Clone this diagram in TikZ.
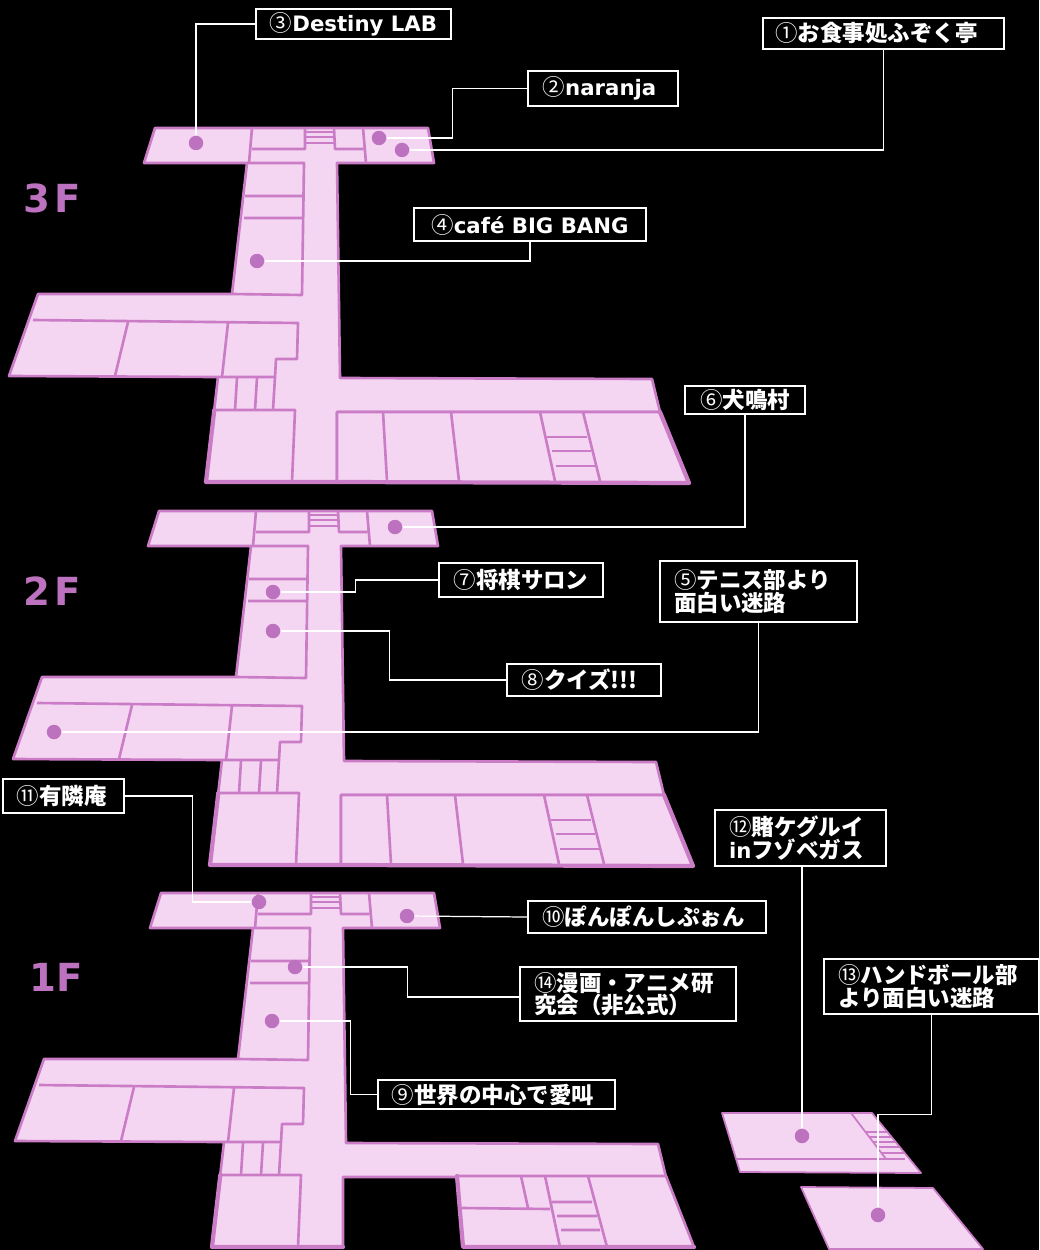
\documentclass[tikz,border=0pt]{standalone}
\usepackage{fontspec}
\setmainfont{DejaVu Sans}
\newfontfamily\jp{Noto Sans CJK JP}
\usetikzlibrary{positioning, calc}
\definecolor{roomfill}{HTML}{F5D6F2}
\definecolor{wallline}{HTML}{CB7CC6}
\definecolor{dotcol}{HTML}{BD72BF}
\newcommand{\jt}[1]{{\jp\fontsize{12.8}{12.8}\selectfont #1}}
\newcommand{\cn}[1]{{\mdseries\jp\fontsize{12.8}{12.8}\selectfont #1}}

% wings, stem and rooms that every floor has
\newcommand{\floormain}{
  \draw[wall, fill=roomfill] (155, 128) -- (428, 128) -- (434, 163) -- (337, 163) -- (340, 378) -- (652, 379) -- (660, 412)
    -- (337, 412) -- (337, 482) -- (206, 482) -- (218, 377) -- (9, 376) -- (38, 294) -- (232, 294) -- (247, 163) -- (144, 163) -- cycle;
  \draw[wall] (252, 128) -- (249, 163) (252, 149) -- (305, 149) -- (305, 128) (334, 128) -- (335, 149) -- (363, 149) (363, 128) -- (366, 163);
  \draw[wall, line width=0.9pt] (305, 132) -- (334, 132) (305, 137) -- (334, 137) (305, 143) -- (334, 143);
  \draw[wall] (247, 163) -- (304, 163) -- (302, 295) -- (232, 294) (245, 196) -- (303, 196) (244, 218) -- (302, 218);
  \draw[wall] (33, 320) -- (298, 323) -- (297, 359) -- (276, 359) -- (275, 377) -- (218, 377);
  \draw[wall] (128, 322) -- (115, 376) (228, 323) -- (222, 377);
  \draw[wall] (275, 377) -- (273, 410) (237, 378) -- (235, 410) (257, 378) -- (255, 410);
  \draw[wall] (216, 410) -- (295, 410) -- (292, 482);
  \draw[wall, line width=2.4pt, line cap=round] (214.3, 410) -- (206, 482) -- (337, 482);
}
% lower east wing, 3F and 2F
\newcommand{\eastrooms}{
  \draw[wall, fill=roomfill] (337, 412) -- (660, 412) -- (689, 483) -- (337, 482) -- cycle;
  \draw[wall] (383, 412) -- (387, 481) (451, 412) -- (459, 481) (540, 412) -- (555, 481) (583, 412) -- (600, 481);
  \draw[wall] (547, 437) -- (587, 437) (552, 451) -- (591, 451) (556, 466) -- (596, 466);
  \draw[wall, line width=2.4pt, line cap=round] (660, 412) -- (689, 483) -- (337, 482);
}
% lower east wing, 1F
\newcommand{\eastroomsone}{
  \draw[wall, fill=roomfill] (451, 411) -- (660, 411) -- (688, 482) -- (457, 482) -- cycle;
  \draw[wall] (515, 411) -- (522, 443) (539, 411) -- (554, 482) (582, 411) -- (601, 482);
  \draw[wall] (456, 443) -- (544, 444) (546, 437) -- (586, 437) (551, 451) -- (591, 451) (555, 465) -- (594, 465);
  \draw[wall, line width=2.4pt, line cap=round] (451, 411) -- (457, 482) -- (688, 482);
}

\begin{document}
\begin{tikzpicture}[x=0.02cm, y=-0.02cm,
    wall/.style={draw=wallline, line width=1.5pt, line join=round},
    spot/.style={circle, fill=dotcol, inner sep=0pt, minimum size=0.29cm},
    lab/.style={draw=white, fill=black, text=white, line width=0.7pt, inner sep=0pt, font=\bfseries\fontsize{12.1}{12.8}\selectfont},
    twolab/.style={lab, align=left, inner ysep=0.07cm},
    lead/.style={draw=white, line width=0.7pt},
    floorname/.style={text=dotcol, font=\bfseries\fontsize{22}{22}\selectfont, inner sep=0pt}]
  \fill[black] (0, 0) rectangle (1039, 1250);
  \useasboundingbox (0, 0) rectangle (1039, 1250);

  \floormain
  \eastrooms
  \begin{scope}[shift={(4, 383)}]
    \floormain
    \eastrooms
  \end{scope}
  \begin{scope}[shift={(6, 765)}]
    \floormain
    \eastroomsone
  \end{scope}

  % annex blocks
  \draw[wall, line width=1pt, fill=roomfill] (722, 1113) -- (872, 1113) -- (921, 1173) -- (740, 1172) -- cycle;
  \draw[wall, line width=1pt] (851, 1113) -- (886, 1159) (736, 1159) -- (886, 1159);
  \foreach \y in {1132, 1137, 1142, 1147, 1153} {
    \draw[wall, line width=0.7pt] ({851+0.76*(\y-1113)}, \y) -- ({872+0.8*(\y-1113)}, \y);
  }
  \draw[wall, line width=0.7pt] (886, 1159) -- (905, 1159);
  \draw[wall, line width=1pt, fill=roomfill] (801, 1187) -- (933, 1188) -- (983, 1249) -- (829, 1249) -- cycle;

  \node[floorname] (f3) at (52, 198) {3\kern2.5pt F};
  \node[floorname] (f2) at (52, 591) {2\kern2.5pt F};
  \node[floorname] (f1) at (56, 977) {1F};

  \node[spot] (d1) at (402, 150) {};
  \node[spot] (d2) at (379, 138) {};
  \node[spot] (d3) at (196, 143) {};
  \node[spot] (d4) at (257, 261) {};
  \node[spot] (d5) at (54, 732) {};
  \node[spot] (d6) at (395, 527) {};
  \node[spot] (d7) at (273, 592) {};
  \node[spot] (d8) at (273, 631) {};
  \node[spot] (d9) at (272, 1021) {};
  \node[spot] (d10) at (407, 916) {};
  \node[spot] (d11) at (259, 902) {};
  \node[spot] (d12) at (802, 1136) {};
  \node[spot] (d13) at (878, 1215) {};
  \node[spot] (d14) at (295, 967) {};

  \node[lab, minimum width=4.82cm, minimum height=0.62cm] (lab1) at (883.5, 33.5) {\cn{①}\jt{お食事処ふぞく亭}\kern8pt};
  \node[lab, minimum width=3cm, minimum height=0.7cm] (lab2) at (603, 88.5) {\cn{②}naranja\kern4pt};
  \node[lab, minimum width=3.9cm, minimum height=0.6cm] (lab3) at (353.5, 24) {\cn{③}Destiny LAB};
  \node[lab, minimum width=4.64cm, minimum height=0.66cm] (lab4) at (530, 224.5) {\cn{④}café BIG BANG};
  \node[twolab, inner xsep=0.28cm, text width=3.38cm, minimum height=1.22cm] (lab5) at (758.5, 591.5) {\cn{⑤}\jt{テニス部より}\\\jt{面白い迷路}};
  \node[lab, minimum width=2.4cm, minimum height=0.56cm] (lab6) at (745, 400) {\cn{⑥}\jt{犬鳴村}};
  \node[lab, minimum width=3.28cm, minimum height=0.68cm] (lab7) at (521, 580) {\cn{⑦}\jt{将棋サロン}};
  \node[lab, minimum width=3.08cm, minimum height=0.64cm] (lab8) at (584, 680) {\cn{⑧}\jt{クイズ!!!}\kern5pt};
  \node[lab, minimum width=4.74cm, minimum height=0.58cm] (lab9) at (496.5, 1094.5) {\cn{⑨}\jt{世界の中心で愛叫}\kern4pt};
  \node[lab, minimum width=4.76cm, minimum height=0.64cm] (lab10) at (647, 917) {\cn{⑩}\jt{ぽんぽんしぷぉん}\kern4pt};
  \node[lab, minimum width=2.42cm, minimum height=0.68cm] (lab11) at (63.5, 796) {\cn{⑪}\jt{有隣庵}\kern2pt};
  \node[twolab, inner xsep=0.28cm, text width=2.86cm, minimum height=1.12cm] (lab12) at (800.5, 838) {\cn{⑫}\jt{賭ケグルイ}\\in\jt{フゾベガス}};
  \node[twolab, inner xsep=0.28cm, text width=3.74cm, minimum height=1.1cm] (lab13) at (931.5, 986.5) {\cn{⑬}\jt{ハンドボール部}\\\jt{より面白い迷路}};
  \node[twolab, inner xsep=0.28cm, text width=3.76cm, minimum height=1.08cm] (lab14) at (628, 994) {\cn{⑭}\jt{漫画・アニメ研}\\\jt{究会（非公式）}};

  \draw[lead] (lab1.south) |- (d1);
  \draw[lead] (lab2.west) -- ++(-75, 0) |- (d2);
  \draw[lead] (lab3.west) -| (d3);
  \draw[lead] (lab4.south) |- (d4);
  \draw[lead] (lab5.south) |- (d5);
  \draw[lead] (lab6.south) |- (d6);
  \draw[lead] (lab7.west) -- ++(-83, 0) |- (d7);
  \draw[lead] (lab8.west) -- ++(-117, 0) |- (d8);
  \draw[lead] (lab9.west) -- ++(-27, 0) |- (d9);
  \draw[lead] (lab10.west) -- (d10);
  \draw[lead] (lab11.east) -- ++(68, 0) |- (d11);
  \draw[lead] (d12 |- lab12.south) -- (d12);
  \draw[lead] (lab13.south) -- ++(0, 100) -| (d13);
  \draw[lead] ($(lab14.west)+(0, 3)$) -- ++(-112, 0) |- (d14);
\end{tikzpicture}
\end{document}
